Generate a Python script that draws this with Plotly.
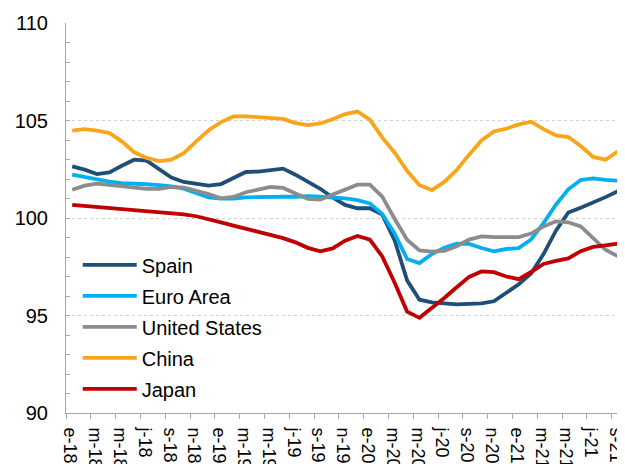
import plotly.graph_objects as go

months = ["e-18", "f-18", "m-18", "a-18", "m-18", "j-18", "j-18", "a-18", "s-18", "o-18", "n-18", "d-18",
          "e-19", "f-19", "m-19", "a-19", "m-19", "j-19", "j-19", "a-19", "s-19", "o-19", "n-19", "d-19",
          "e-20", "f-20", "m-20", "a-20", "m-20", "j-20", "j-20", "a-20", "s-20", "o-20", "n-20", "d-20",
          "e-21", "f-21", "m-21", "a-21", "m-21", "j-21", "j-21", "a-21", "s-21", "o-21"]

spain = [102.65, 102.48, 102.25, 102.34, 102.68, 102.99, 102.94, 102.53, 102.07, 101.85, 101.76, 101.66,
         101.74, 102.05, 102.36, 102.38, 102.44, 102.53, 102.22, 101.88, 101.50, 101.05, 100.67, 100.50,
         100.50, 100.17, 98.85, 96.80, 95.81, 95.67, 95.60, 95.57, 95.60, 95.62, 95.73, 96.15,
         96.60, 97.15, 98.15, 99.35, 100.28, 100.53, 100.78, 101.07, 101.37, 101.65]

euro_area = [102.22, 102.10, 101.97, 101.86, 101.79, 101.74, 101.73, 101.69, 101.62, 101.50, 101.28, 101.06,
             100.99, 101.00, 101.06, 101.08, 101.08, 101.09, 101.09, 101.12, 101.09, 101.06, 101.01, 100.92,
             100.75, 100.20, 99.20, 97.90, 97.69, 98.15, 98.48, 98.68, 98.67, 98.46, 98.29, 98.41,
             98.46, 98.90, 99.74, 100.68, 101.47, 101.95, 102.03, 101.95, 101.92, 101.87]

united_states = [101.45, 101.66, 101.76, 101.69, 101.59, 101.52, 101.49, 101.49, 101.59, 101.56, 101.42, 101.23,
                 101.01, 101.08, 101.32, 101.45, 101.59, 101.54, 101.28, 100.98, 100.95, 101.20, 101.49, 101.71,
                 101.71, 101.10, 99.95, 98.89, 98.34, 98.28, 98.32, 98.55, 98.89, 99.06, 99.02, 99.02,
                 99.02, 99.20, 99.57, 99.83, 99.78, 99.57, 98.97, 98.37, 98.03, 97.80]

china = [104.48, 104.56, 104.48, 104.36, 103.93, 103.37, 103.08, 102.92, 102.99, 103.33, 103.93, 104.50,
         104.92, 105.21, 105.21, 105.18, 105.13, 105.08, 104.87, 104.76, 104.85, 105.06, 105.33, 105.46,
         105.04, 104.12, 103.35, 102.42, 101.68, 101.43, 101.85, 102.46, 103.25, 103.98, 104.44, 104.58,
         104.80, 104.94, 104.56, 104.24, 104.15, 103.69, 103.13, 102.99, 103.42, None]

japan = [100.67, 100.62, 100.56, 100.51, 100.48, 100.43, 100.38, 100.32, 100.26, 100.19, 100.09, 99.95,
         99.78, 99.61, 99.45, 99.32, 99.15, 98.97, 98.75, 98.47, 98.29, 98.44, 98.84, 99.08,
         98.89, 98.03, 96.68, 95.20, 94.88, 95.36, 95.90, 96.45, 96.98, 97.26, 97.22, 97.00,
         96.86, 97.23, 97.64, 97.80, 97.93, 98.30, 98.52, 98.60, 98.70, 98.77]

series_names = ["Spain", "Euro Area", "United States", "China", "Japan"]
series_values = [spain, euro_area, united_states, china, japan]
series_colors = ["#1F4E79", "#00B0F0", "#8C8C8C", "#F9A51A", "#C00000"]

FONT = "Liberation Sans, Arial, sans-serif"
x_idx = list(range(len(months)))

fig = go.Figure()
for name, vals, col in zip(series_names, series_values, series_colors):
    fig.add_trace(go.Scatter(
        x=x_idx, y=vals, name=name, mode="lines",
        line=dict(color=col, width=3.8), legendgroup=name,
    ))

label_idx = x_idx[::2]
fig.update_layout(
    width=617, height=456,
    margin=dict(l=58, r=0, t=15, b=51),
    paper_bgcolor="white", plot_bgcolor="white",
    font=dict(family=FONT, color="#000000", size=20),
    legend=dict(
        x=0.021, y=0.43, xanchor="left", yanchor="top",
        bgcolor="rgba(0,0,0,0)", font=dict(size=20, family=FONT),
        itemwidth=54, tracegroupgap=2,
    ),
    xaxis=dict(
        range=[-0.5, 44.57], automargin=False,
        tickmode="array", tickvals=label_idx, ticktext=[months[i] for i in label_idx],
        tickangle=90, tickfont=dict(size=18, family=FONT),
        ticks="", showgrid=False, zeroline=False,
        showline=True, linecolor="#A6A6A6", linewidth=1,
        ticklabelstandoff=10, ticklabeloverflow="allow", ticklabelshift=-2,
        minor=dict(tickmode="array", tickvals=[i - 0.5 for i in label_idx],
                   ticks="outside", ticklen=5, tickcolor="#A6A6A6", showgrid=False),
    ),
    yaxis=dict(
        range=[90, 110], tickvals=[90, 95, 100, 105, 110], automargin=False,
        tickfont=dict(size=20, family=FONT),
        ticks="inside", ticklen=4, tickcolor="#A6A6A6",
        showgrid=True, gridcolor="#D0D0D0", griddash="dot", gridwidth=1,
        zeroline=False, showline=True, linecolor="#A6A6A6", linewidth=1,
        ticklabelstandoff=13,
        minor=dict(dtick=1, ticks="inside", ticklen=4, tickcolor="#A6A6A6", showgrid=False),
    ),
)

fig.write_html("out.html")
